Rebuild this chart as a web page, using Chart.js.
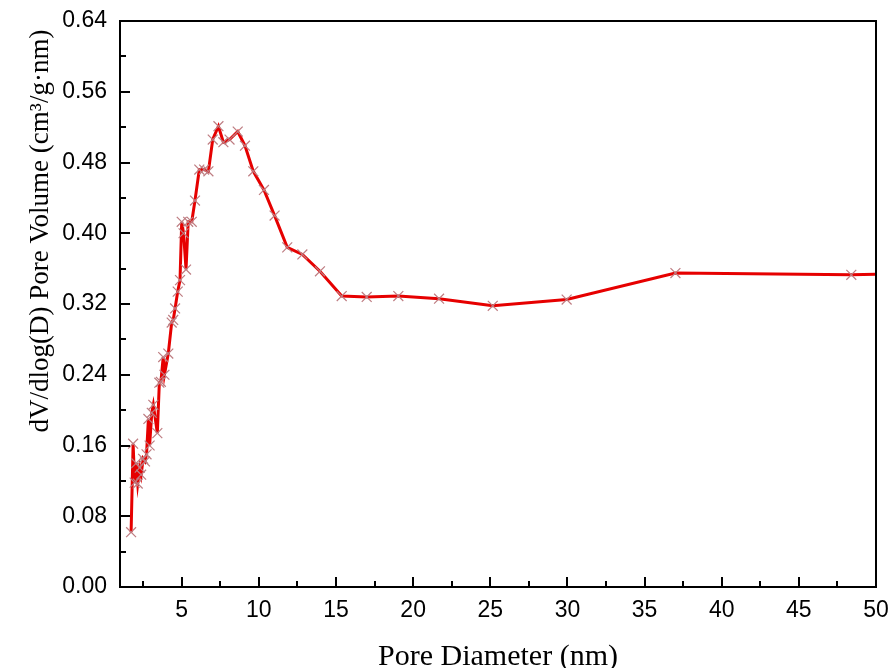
<!DOCTYPE html>
<html>
<head>
<meta charset="utf-8">
<script src="https://cdn.jsdelivr.net/npm/chart.js@4.4.1/dist/chart.umd.min.js"></script>
<style>
  html, body { margin: 0; padding: 0; background: #fff; }
  #wrap { width: 892px; height: 668px; }
</style>
</head>
<body>
<div id="wrap"><canvas id="mycanvas" width="892" height="668"></canvas></div>
<script>
// pore diameter (nm) and dV/dlog(D) pore volume
var diameter = [1.72, 1.85, 1.95, 2.05, 2.15, 2.28, 2.37, 2.50, 2.62, 2.72, 2.84, 2.92, 3.06, 3.16, 3.42,
  3.55, 3.65, 3.80, 3.88, 4.13, 4.35, 4.45, 4.57, 4.74, 4.89, 5.00, 5.12, 5.28, 5.42, 5.65, 5.86,
  6.14, 6.45, 6.73, 7.01, 7.38, 7.70, 8.10, 8.63, 9.10, 9.64, 10.33, 11.02, 11.84, 12.82, 13.96,
  15.37, 16.99, 19.04, 21.68, 25.16, 29.95, 37.0, 48.4, 51.5];
var poreVolume = [0.062, 0.162, 0.118, 0.140, 0.117, 0.135, 0.127, 0.145, 0.142, 0.150, 0.190, 0.160, 0.197, 0.206, 0.174,
  0.231, 0.232, 0.260, 0.240, 0.264, 0.299, 0.302, 0.315, 0.334, 0.347, 0.413, 0.400, 0.359, 0.413, 0.413, 0.437,
  0.472, 0.472, 0.470, 0.506, 0.521, 0.503, 0.506, 0.515, 0.499, 0.470, 0.449, 0.420, 0.384, 0.376, 0.357,
  0.329, 0.328, 0.329, 0.326, 0.318, 0.325, 0.355, 0.353, 0.354];

var xTicks = [5, 10, 15, 20, 25, 30, 35, 40, 45, 50];
var xMinorTicks = [2.5, 7.5, 12.5, 17.5, 22.5, 27.5, 32.5, 37.5, 42.5, 47.5];
var yTicks = [0, 0.08, 0.16, 0.24, 0.32, 0.40, 0.48, 0.56, 0.64];
var yMinorTicks = [0.04, 0.12, 0.20, 0.28, 0.36, 0.44, 0.52, 0.60];

var xTitle = "Pore Diameter (nm)";
var yTitle = "dV/dlog(D) Pore Volume (cm\u00B3/g\u00B7nm)";

var points = [];
for (var i in diameter) {
  points.push({ x: diameter[i], y: poreVolume[i] });
}

// frame, inward ticks and axis titles
var framePlugin = {
  id: "frame",
  afterDraw: function(chart) {
    var ctx = chart.ctx;
    var a = chart.chartArea;
    var xs = chart.scales.x;
    var ys = chart.scales.y;
    ctx.save();
    ctx.strokeStyle = "#000";
    ctx.lineWidth = 2;
    ctx.strokeRect(a.left, a.top, a.right - a.left, a.bottom - a.top);

    ctx.beginPath();
    xTicks.forEach(function(v) {
      var px = Math.round(xs.getPixelForValue(v));
      ctx.moveTo(px, a.bottom);
      ctx.lineTo(px, a.bottom - 10);
    });
    xMinorTicks.forEach(function(v) {
      var px = Math.round(xs.getPixelForValue(v));
      ctx.moveTo(px, a.bottom);
      ctx.lineTo(px, a.bottom - 6);
    });
    yTicks.forEach(function(v) {
      var py = Math.round(ys.getPixelForValue(v));
      ctx.moveTo(a.left, py);
      ctx.lineTo(a.left + 10, py);
    });
    yMinorTicks.forEach(function(v) {
      var py = Math.round(ys.getPixelForValue(v));
      ctx.moveTo(a.left, py);
      ctx.lineTo(a.left + 6, py);
    });
    ctx.stroke();

    ctx.fillStyle = "#000";
    ctx.font = "30px 'Liberation Serif', 'Times New Roman', serif";
    ctx.textAlign = "center";
    ctx.textBaseline = "alphabetic";
    ctx.fillText(xTitle, (a.left + a.right) / 2, 665);

    ctx.font = "27px 'Liberation Serif', 'Times New Roman', serif";
    ctx.translate(41, 231);
    ctx.rotate(-Math.PI / 2);
    ctx.textBaseline = "middle";
    ctx.fillText(yTitle, 0, 0);
    ctx.restore();
  }
};

var tickFont = { family: "'Liberation Sans', Arial, sans-serif", size: 23 };

var ctx = document.getElementById("mycanvas");
var LineGraph = new Chart(ctx, {
  type: "line",
  data: {
    datasets: [{
      label: "pore volume",
      data: points,
      fill: false,
      tension: 0,
      borderColor: "#e60000",
      borderWidth: 3,
      pointStyle: "crossRot",
      pointRadius: 7,
      pointHoverRadius: 7,
      pointBorderWidth: 1.2,
      pointBorderColor: "rgba(190, 125, 130, 1)",
      pointBackgroundColor: "rgba(190, 125, 130, 1)"
    }]
  },
  options: {
    responsive: false,
    animation: false,
    events: [],
    layout: { padding: { left: 0, right: 16, top: 21, bottom: 0 } },
    plugins: { legend: { display: false }, tooltip: { enabled: false } },
    scales: {
      x: {
        type: "linear",
        min: 1,
        max: 50,
        grid: { display: false, drawTicks: false, tickLength: 0 },
        border: { display: false },
        afterBuildTicks: function(scale) {
          scale.ticks = xTicks.map(function(v) { return { value: v }; });
        },
        afterFit: function(scale) {
          scale.height = 81;
          scale.paddingLeft = 0;
          scale.paddingRight = 0;
        },
        ticks: { font: tickFont, color: "#000", padding: 10, maxRotation: 0, autoSkip: false }
      },
      y: {
        min: 0,
        max: 0.64,
        grid: { display: false, drawTicks: false, tickLength: 0 },
        border: { display: false },
        afterBuildTicks: function(scale) {
          scale.ticks = yTicks.map(function(v) { return { value: v }; });
        },
        afterFit: function(scale) {
          scale.width = 120;
          scale.paddingTop = 0;
          scale.paddingBottom = 0;
        },
        ticks: {
          font: tickFont,
          color: "#000",
          padding: 13,
          callback: function(v) { return v.toFixed(2); }
        }
      }
    }
  },
  plugins: [framePlugin]
});
</script>
</body>
</html>
